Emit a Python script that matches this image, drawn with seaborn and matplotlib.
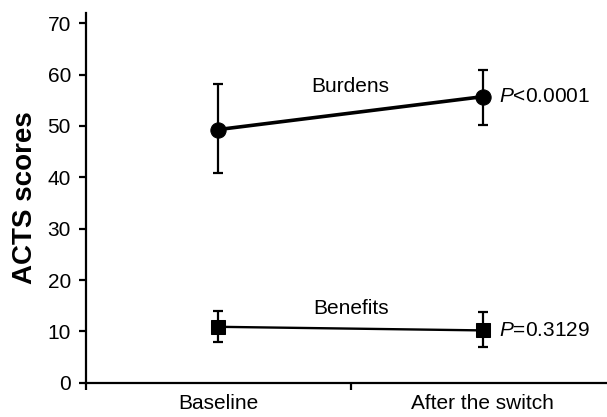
import matplotlib
matplotlib.use('Agg')
import matplotlib.pyplot as plt
import seaborn as sns
import pandas as pd
import numpy as np

sns.set_style("ticks")
plt.rcParams['font.family'] = ['Liberation Sans', 'DejaVu Sans']
plt.rcParams['mathtext.fontset'] = 'custom'
plt.rcParams['mathtext.rm'] = 'Liberation Sans'
plt.rcParams['mathtext.it'] = 'Liberation Sans:italic'
plt.rcParams['text.color'] = 'black'
plt.rcParams['xtick.color'] = 'black'
plt.rcParams['ytick.color'] = 'black'
plt.rcParams['axes.labelcolor'] = 'black'

timepoints = ["Baseline", "After the switch"]
burdens_mean = [49.3, 55.7]
burdens_upper = [58.2, 60.8]
burdens_lower = [40.9, 50.2]
benefits_mean = [10.9, 10.2]
benefits_upper = [13.9, 13.8]
benefits_lower = [8.0, 7.0]
p_labels = ["$\\it{P}$<0.0001", "$\\it{P}$=0.3129"]

df = pd.DataFrame({
    "x": [0, 1, 0, 1],
    "score": burdens_mean + benefits_mean,
    "upper": burdens_upper + benefits_upper,
    "lower": burdens_lower + benefits_lower,
    "scale": ["Burdens", "Burdens", "Benefits", "Benefits"],
})

fig = plt.figure(figsize=(6.07, 4.17), dpi=100)
ax = fig.add_axes([0.142, 0.082, 0.858, 0.887])

styles = {"Burdens": dict(marker="o", lw=2.6, ms=11),
          "Benefits": dict(marker="s", lw=1.7, ms=10)}
for name, st in styles.items():
    sub = df[df["scale"] == name]
    ax.errorbar(sub["x"], sub["score"],
                yerr=[sub["score"] - sub["lower"], sub["upper"] - sub["score"]],
                fmt="none", ecolor="black", elinewidth=1.6, capsize=3.8, capthick=1.6)
    sns.lineplot(data=sub, x="x", y="score", color="black", marker=st["marker"],
                 markersize=st["ms"], linewidth=st["lw"], markeredgecolor="black", ax=ax)

fs = 15
ax.text(0.5, 57.6, "Burdens", ha="center", va="center", fontsize=fs)
ax.text(0.5, 14.4, "Benefits", ha="center", va="center", fontsize=fs)
ax.text(1.06, burdens_mean[1], p_labels[0], ha="left", va="center", fontsize=fs)
ax.text(1.06, benefits_mean[1], p_labels[1], ha="left", va="center", fontsize=fs)

ax.set_xlim(-0.5, 1.47)
ax.set_ylim(0, 72)
ax.set_yticks(np.arange(0, 71, 10))
ax.set_xticks([-0.5, 0.5])
ax.set_xticklabels([])
ax.set_xticks([0, 1], minor=True)
ax.set_xticklabels(timepoints, minor=True)
ax.tick_params(axis="x", which="minor", length=0, pad=8, labelsize=fs)
ax.tick_params(axis="x", which="major", length=5, width=1.6, direction="out")
ax.tick_params(axis="y", length=5, width=1.6, labelsize=fs, pad=6)
ax.set_xlabel("")
ax.set_ylabel("ACTS scores", fontsize=20, fontweight="bold", labelpad=7)
sns.despine(ax=ax)
for s in ["left", "bottom"]:
    ax.spines[s].set_linewidth(1.6)
    ax.spines[s].set_color("black")

fig.savefig("out.png", dpi=100)
